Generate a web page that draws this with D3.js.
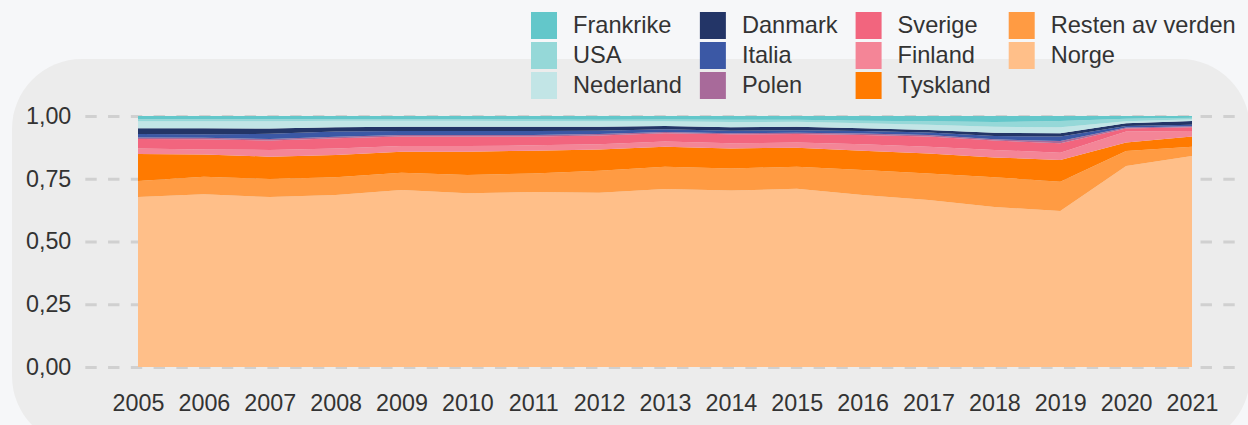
<!DOCTYPE html>
<html><head><meta charset="utf-8">
<script src="https://cdn.jsdelivr.net/npm/d3@7"></script>
<style>
body{margin:0;background:#f6f7f9;}
svg{display:block;font-family:"Liberation Sans",Arial,sans-serif;}
</style>
</head><body>
<svg id="chart" width="1248" height="425"></svg>
<script>
const years = [2005,2006,2007,2008,2009,2010,2011,2012,2013,2014,2015,2016,2017,2018,2019,2020,2021];

// stack order bottom -> top
const seriesNames = ["Norge","Resten av verden","Tyskland","Finland","Sverige","Polen","Italia","Danmark","Nederland","USA","Frankrike"];
const legendNames = ["Frankrike","USA","Nederland","Danmark","Italia","Polen","Sverige","Finland","Tyskland","Resten av verden","Norge"];

const norge     = [0.677,0.688,0.677,0.685,0.705,0.692,0.697,0.694,0.709,0.703,0.710,0.685,0.665,0.637,0.622,0.801,0.841];
const resten    = [0.064,0.070,0.072,0.071,0.069,0.073,0.074,0.088,0.089,0.088,0.088,0.100,0.106,0.119,0.116,0.060,0.036];
const tyskland  = [0.108,0.089,0.089,0.089,0.084,0.093,0.091,0.085,0.079,0.080,0.076,0.077,0.080,0.079,0.087,0.033,0.041];
const finland   = [0.022,0.020,0.027,0.026,0.022,0.022,0.021,0.020,0.021,0.020,0.020,0.025,0.026,0.030,0.029,0.044,0.022];
const sverige   = [0.037,0.040,0.037,0.040,0.038,0.038,0.035,0.035,0.033,0.036,0.034,0.037,0.041,0.037,0.037,0.012,0.015];
const polen     = [0.006,0.006,0.006,0.006,0.006,0.006,0.006,0.006,0.005,0.004,0.005,0.006,0.006,0.005,0.009,0.004,0.004];
const italia    = [0.014,0.014,0.021,0.021,0.016,0.016,0.016,0.013,0.011,0.010,0.010,0.010,0.010,0.013,0.018,0.006,0.006];
const danmark   = [0.023,0.024,0.021,0.017,0.017,0.017,0.017,0.016,0.013,0.014,0.014,0.011,0.010,0.013,0.013,0.011,0.015];
const nederland = [0.028,0.028,0.029,0.026,0.024,0.024,0.023,0.022,0.019,0.021,0.020,0.020,0.021,0.024,0.024,0.008,0.007];
const usa       = [0.008,0.008,0.008,0.006,0.006,0.006,0.006,0.006,0.007,0.009,0.008,0.010,0.014,0.019,0.025,0.010,0.006];
const frankrike = [0.013,0.013,0.013,0.013,0.013,0.013,0.014,0.015,0.014,0.015,0.015,0.019,0.021,0.024,0.020,0.011,0.007];

const yTicks = [0,0.25,0.5,0.75,1];

const colors = {
  "Frankrike":"#63c7ca","USA":"#95d8d8","Nederland":"#c2e5e6",
  "Danmark":"#233567","Italia":"#3b58a5","Polen":"#a86a9a",
  "Sverige":"#f2657e","Finland":"#f48597","Tyskland":"#ff7a00",
  "Resten av verden":"#ff9b43","Norge":"#ffbf89"
};

const seriesValues = {
  "Norge":norge,"Resten av verden":resten,"Tyskland":tyskland,"Finland":finland,
  "Sverige":sverige,"Polen":polen,"Italia":italia,"Danmark":danmark,
  "Nederland":nederland,"USA":usa,"Frankrike":frankrike
};

const table = years.map((y,i)=>{
  const row = {year:y};
  seriesNames.forEach(n=>row[n]=seriesValues[n][i]);
  return row;
});

const svg = d3.select("#chart");
const textColor = "#333333";

// panel
svg.append("rect").attr("x",12).attr("y",59).attr("width",1238).attr("height",387)
  .attr("rx",70).attr("ry",70).attr("fill","#ececec");

const x = d3.scaleLinear().domain([2005,2021]).range([138,1192]);
const y = d3.scaleLinear().domain([0,1]).range([367,116]);

const loc = d3.formatLocale({decimal:",",thousands:" ",grouping:[3],currency:["","kr"]});
const fmt = loc.format(".2f");

// y axis with grid
const yAxis = svg.append("g").attr("transform","translate(85.3,0)")
  .call(d3.axisLeft(y).tickValues(yTicks).tickFormat(fmt).tickSizeInner(-1150).tickSizeOuter(0).tickPadding(14));
yAxis.select(".domain").remove();
yAxis.selectAll(".tick line").attr("stroke","#d0d0d0").attr("stroke-width",3).attr("stroke-dasharray","11.4,11.36");
yAxis.selectAll(".tick text").attr("fill",textColor).style("font-size","23.3px").style("font-family","'Liberation Sans',Arial,sans-serif");

// stacked areas
const stack = d3.stack().keys(seriesNames);
const layers = stack(table);
const area = d3.area().x(d=>x(d.data.year)).y0(d=>y(d[0])).y1(d=>y(d[1])).curve(d3.curveLinear);
svg.append("g").selectAll("path").data(layers).join("path")
  .attr("d",area).attr("fill",d=>colors[d.key]);

// x axis
const xAxis = svg.append("g").attr("transform","translate(0,367)")
  .call(d3.axisBottom(x).tickValues(years).tickFormat(d3.format("d")).tickSize(0).tickPadding(27));
xAxis.select(".domain").remove();
xAxis.selectAll(".tick text").attr("fill",textColor).style("font-size","23.3px").style("font-family","'Liberation Sans',Arial,sans-serif");

// legend (column-major, 3 rows)
const legend = svg.append("g");
let colX = 531;
const sw = 26, rowPitch = 30;
for(let c=0; c*3<legendNames.length; c++){
  const items = legendNames.slice(c*3,c*3+3);
  let maxW = 0;
  items.forEach((name,r)=>{
    legend.append("rect").attr("x",colX).attr("y",12+r*rowPitch).attr("width",sw).attr("height",27)
      .attr("fill",colors[name]);
    const t = legend.append("text").attr("x",colX+sw+16).attr("y",33+r*rowPitch)
      .attr("fill",textColor).style("font-size","23.6px").text(name);
    maxW = Math.max(maxW,t.node().getComputedTextLength());
  });
  colX = colX+sw+16+maxW+18;
}
</script>
</body></html>
